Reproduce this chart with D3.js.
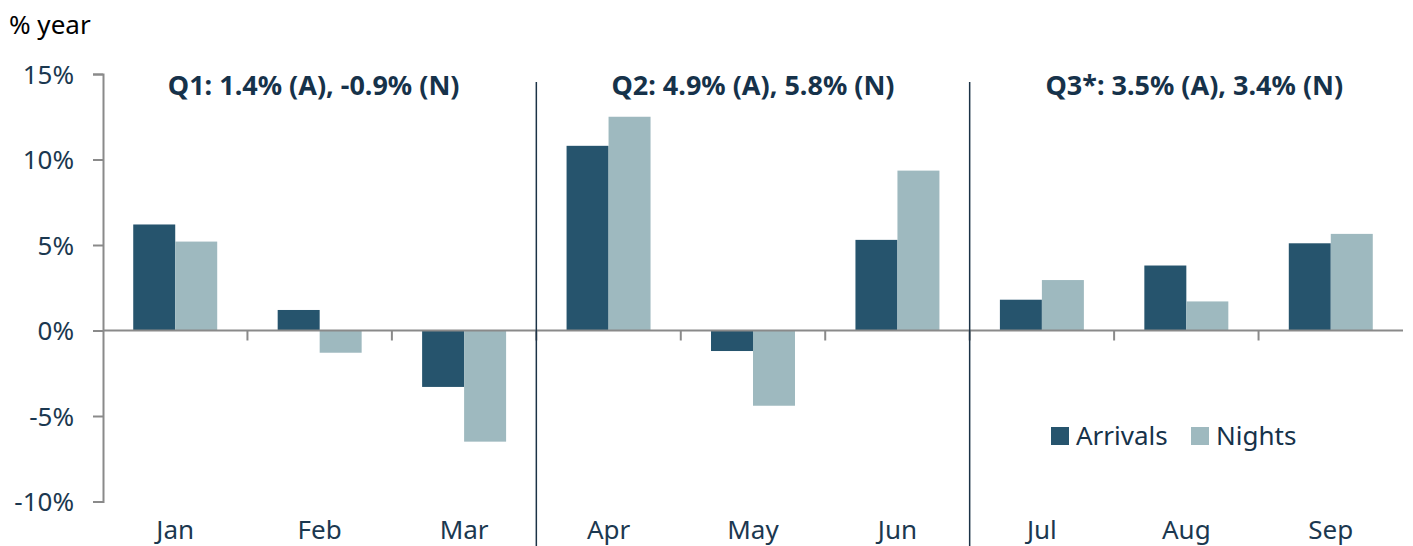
<!DOCTYPE html>
<html>
<head>
<meta charset="utf-8">
<script src="https://cdn.jsdelivr.net/npm/d3@7"></script>
<style>
body { margin: 0; background: #fff; }
svg { display: block; font-family: "Noto Sans", Lato, sans-serif; }
.tick text { fill: #1b3850; font-size: 26px; font-family: "Noto Sans", Lato, sans-serif; }
.title { fill: #16324a; font-size: 27px; font-weight: bold; }
.legend text { fill: #16324a; font-size: 26px; }
</style>
</head>
<body>
<svg width="1413" height="546"></svg>
<script>
var months = ["Jan", "Feb", "Mar", "Apr", "May", "Jun", "Jul", "Aug", "Sep"];
var arrivals = [6.2, 1.2, -3.3, 10.8, -1.2, 5.3, 1.8, 3.8, 5.1];
var nights = [5.2, -1.3, -6.5, 12.5, -4.4, 9.35, 2.95, 1.7, 5.65];
var yTicks = [-10, -5, 0, 5, 10, 15];
var quarters = ["Q1: 1.4% (A), -0.9% (N)", "Q2: 4.9% (A), 5.8% (N)", "Q3*: 3.5% (A), 3.4% (N)"];
var seriesNames = ["Arrivals", "Nights"];
var colors = ["#26546d", "#9eb9bf"];

var svg = d3.select("svg");
var mLeft = 103, mRight = 1403, mTop = 74, mBottom = 501.5;

var x = d3.scaleBand().domain(months).range([mLeft, mRight]).padding(0);
var xs = d3.scaleBand().domain(seriesNames).range([0, x.step()]).paddingInner(0).paddingOuter(0.72);
var y = d3.scaleLinear().domain([-10, 15]).range([mBottom, mTop]);

// y axis
var yAxis = svg.append("g")
    .attr("transform", "translate(" + mLeft + ",0)")
    .call(d3.axisLeft(y).tickValues(yTicks).tickSize(10).tickPadding(19).tickFormat(function(d) { return d + "%"; }));
yAxis.select(".domain").attr("stroke", "#8a8a8a").attr("stroke-width", 2);
yAxis.selectAll(".tick line").attr("stroke", "#8a8a8a").attr("stroke-width", 2);
yAxis.selectAll(".tick text").attr("dy", "0.35em");

// bars
var data = months.map(function(m, i) { return { m: m, v: [arrivals[i], nights[i]] }; });
var groups = svg.append("g").selectAll("g").data(data).join("g")
    .attr("transform", function(d) { return "translate(" + x(d.m) + ",0)"; });
groups.selectAll("rect").data(function(d) { return d.v.map(function(v, j) { return { s: seriesNames[j], v: v, j: j }; }); })
    .join("rect")
    .attr("x", function(d) { return xs(d.s); })
    .attr("width", xs.bandwidth())
    .attr("y", function(d) { return y(Math.max(0, d.v)); })
    .attr("height", function(d) { return Math.abs(y(d.v) - y(0)); })
    .attr("fill", function(d) { return colors[d.j]; });

// zero line with ticks at category boundaries
svg.append("line")
    .attr("x1", mLeft).attr("x2", mRight)
    .attr("y1", y(0)).attr("y2", y(0))
    .attr("stroke", "#8a8a8a").attr("stroke-width", 2);
var bounds = months.slice(1).map(function(m) { return x(m); });
svg.append("g").selectAll("line").data(bounds).join("line")
    .attr("x1", function(d) { return d; }).attr("x2", function(d) { return d; })
    .attr("y1", y(0)).attr("y2", y(0) + 10)
    .attr("stroke", "#8a8a8a").attr("stroke-width", 2);

// quarter separators
svg.append("g").selectAll("line").data(["Apr", "Jul"]).join("line")
    .attr("x1", function(d) { return x(d); }).attr("x2", function(d) { return x(d); })
    .attr("y1", 82).attr("y2", 546)
    .attr("stroke", "#1c3347").attr("stroke-width", 1.5);

// category labels
var xAxis = svg.append("g")
    .attr("transform", "translate(0," + mBottom + ")")
    .call(d3.axisBottom(x).tickSize(0).tickPadding(19));
xAxis.select(".domain").remove();

// quarter titles
var qStart = ["Jan", "Apr", "Jul"];
svg.append("g").selectAll("text").data(quarters).join("text")
    .attr("class", "title")
    .attr("x", function(d, i) { return x(qStart[i]) + x.step() * 1.5 + (i == 2 ? 8 : (i == 0 ? -6 : 0)); })
    .attr("y", 95)
    .attr("text-anchor", "middle")
    .text(function(d) { return d; });

// unit label
svg.append("text").attr("x", 9).attr("y", 34)
    .attr("fill", "#000").style("font-size", "26px")
    .text("% year");

// legend
var legend = svg.append("g").attr("class", "legend");
var lx = [1051, 1191];
seriesNames.forEach(function(s, i) {
    legend.append("rect").attr("x", lx[i]).attr("y", 427).attr("width", 18).attr("height", 18).attr("fill", colors[i]);
    legend.append("text").attr("x", lx[i] + 25).attr("y", 445).text(s);
});
</script>
</body>
</html>
